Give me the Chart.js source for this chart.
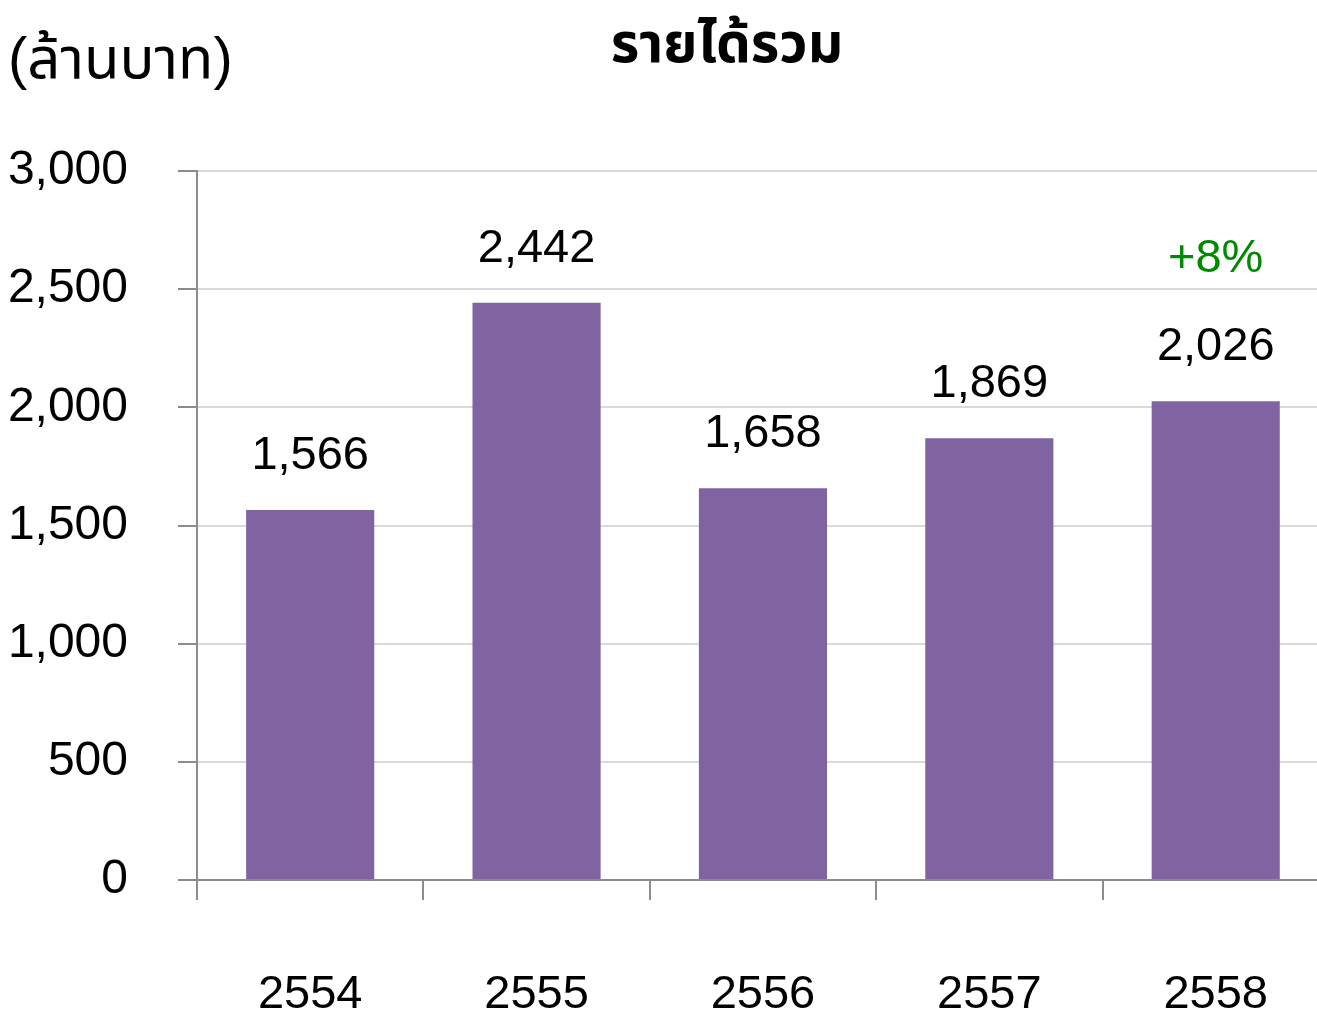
<!DOCTYPE html>
<html>
<head>
<meta charset="utf-8">
<script src="https://cdn.jsdelivr.net/npm/chart.js@4"></script>
<style>
  html, body { margin: 0; padding: 0; background: #fff; overflow: hidden; }
  canvas { display: block; }
</style>
</head>
<body>
<canvas id="revenueChart" width="1335" height="1013"></canvas>
<script>
const years = ["2554", "2555", "2556", "2557", "2558"];
const revenue = [1566, 2442, 1658, 1869, 2026];
const yTicks = [0, 500, 1000, 1500, 2000, 2500, 3000];
const growthNote = "+8%";

const FONT = "'Liberation Sans', Arial, 'Noto Sans Thai', sans-serif";

// labels above the bars, the growth note, and the unit / title text
const labelPlugin = {
  id: "labels",
  afterDatasetsDraw(chart) {
    const ctx = chart.ctx;
    const meta = chart.getDatasetMeta(0);
    ctx.save();
    ctx.textAlign = "center";
    ctx.textBaseline = "alphabetic";
    ctx.font = "47px " + FONT;
    ctx.fillStyle = "#000";
    meta.data.forEach(function (bar, i) {
      ctx.fillText(revenue[i].toLocaleString("en-US"), bar.x, bar.y - 41);
    });
    const last = meta.data[meta.data.length - 1];
    ctx.fillStyle = "#008a00";
    ctx.fillText(growthNote, last.x, last.y - 129);

    ctx.fillStyle = "#000";
    ctx.textAlign = "left";
    ctx.font = "58px " + FONT;
    ctx.fillText("(ล้านบาท)", 8, 78);
    ctx.textAlign = "center";
    ctx.font = "bold 55px " + FONT;
    ctx.fillText("รายได้รวม", 727, 62);
    ctx.restore();
  }
};

new Chart(document.getElementById("revenueChart").getContext("2d"), {
  type: "bar",
  data: {
    labels: years,
    datasets: [{
      data: revenue,
      backgroundColor: "#8064a2",
      barPercentage: 0.566,
      categoryPercentage: 1
    }]
  },
  options: {
    responsive: false,
    devicePixelRatio: 1,
    animation: false,
    layout: { padding: { top: 171, left: 8, right: 0, bottom: 0 } },
    plugins: {
      legend: { display: false },
      tooltip: { enabled: false },
      title: { display: false }
    },
    scales: {
      y: {
        min: 0,
        max: 3000,
        afterBuildTicks(axis) {
          axis.ticks = yTicks.map(function (v) { return { value: v }; });
        },
        afterFit(axis) { axis.width = 189; },
        ticks: {
          color: "#000",
          font: { family: FONT, size: 48 },
          padding: 50,
          callback: function (v) { return v.toLocaleString("en-US"); }
        },
        grid: {
          color: "#d9d9d9",
          lineWidth: 2,
          tickLength: 19,
          tickColor: "#8c8c8c"
        },
        border: { color: "#8c8c8c", width: 2 }
      },
      x: {
        afterFit(axis) { axis.height = 133; },
        ticks: {
          color: "#000",
          font: { family: FONT, size: 47 },
          padding: 67
        },
        grid: {
          offset: true,
          drawOnChartArea: false,
          tickLength: 20,
          tickColor: "#8c8c8c",
          lineWidth: 2
        },
        border: { color: "#8c8c8c", width: 2 }
      }
    }
  },
  plugins: [labelPlugin]
});
</script>
</body>
</html>
